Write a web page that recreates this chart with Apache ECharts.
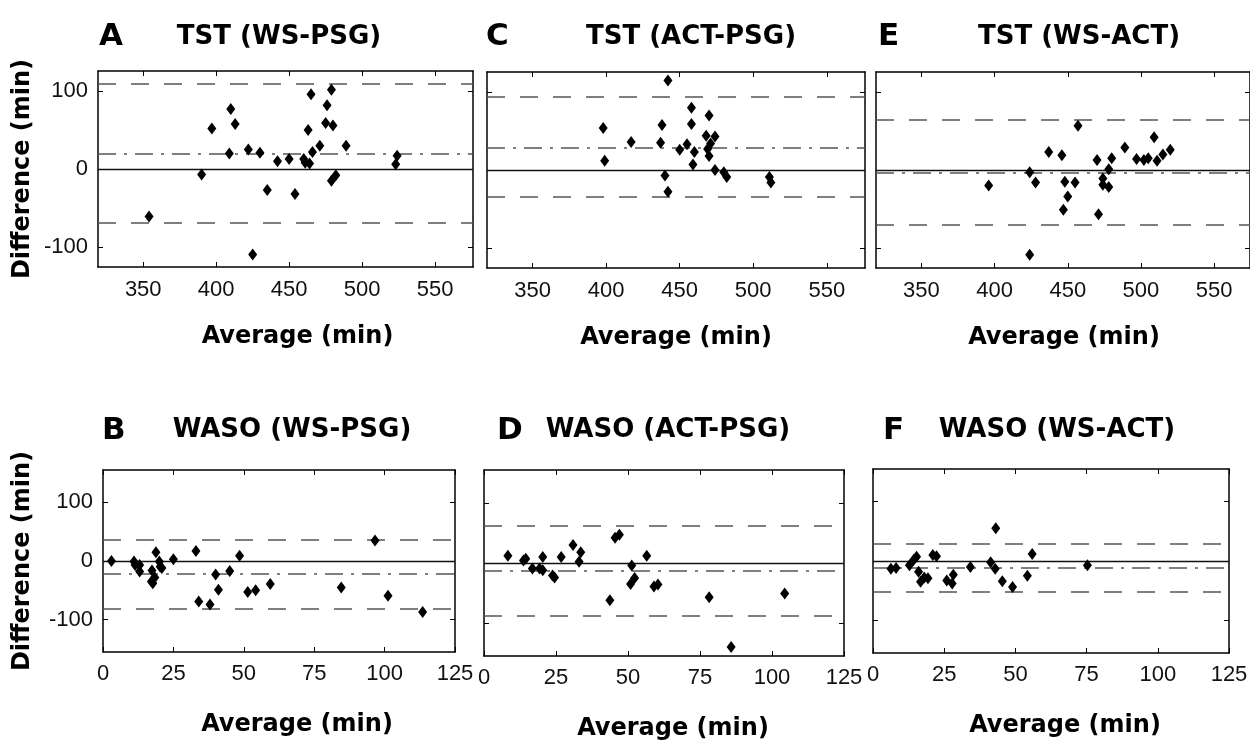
<!DOCTYPE html>
<html>
<head>
<meta charset="utf-8">
<script src="https://cdn.jsdelivr.net/npm/echarts@6/dist/echarts.min.js"></script>
<style>
  html, body { margin: 0; padding: 0; background: #fff; }
  #chart { width: 1250px; height: 740px; }
</style>
</head>
<body>
<div id="chart"></div>
<script>
// Bland-Altman points [average, difference]
const tstWsPsg = [[354,-61],[390,-7],[397,52],[409,20],[410,77],[413,58],[422,25],[425,-110],[430,21],[435,-27],[442,10],[450,13],[454,-32],[460,13],[461,8],[463,50],[464,7],[465,96],[466,22],[471,30],[475,59],[476,82],[479,102],[480,56],[479,-15],[482,-8],[489,30],[523,6],[524,17]];
const tstActPsg = [[398,54],[399,12],[417,36],[437,35],[438,58],[440,-7],[442,115],[442,-28],[450,26],[455,33],[458,80],[458,59],[459,7],[460,23],[468,44],[470,70],[469,27],[470,18],[471,34],[474,43],[474,0],[480,-3],[482,-9],[511,-9],[512,-16]];
const tstWsAct = [[396,-20],[424,-3],[424,-109],[428,-16],[437,23],[446,19],[448,-15],[447,-51],[450,-34],[455,-16],[457,57],[470,13],[471,-57],[474,-11],[474,-19],[478,-22],[478,1],[480,15],[489,29],[497,14],[502,13],[505,15],[509,42],[511,12],[515,20],[520,26]];
const wasoWsPsg = [[3,0],[11,-1],[11.4,-7],[13,-7],[13,-18],[17.4,-16],[17.2,-35],[17.7,-38],[18.4,-28],[18.8,15],[20,-1],[20.3,-10],[20.9,-12],[25,3],[33,17],[34,-69],[38,-74],[40,-23],[41,-49],[45,-17],[48.5,9],[51.4,-53],[54.2,-50],[59.4,-39],[84.6,-45],[96.6,35],[101.2,-59],[113.5,-87]];
const wasoActPsg = [[8.3,12],[13.7,4],[14.5,7],[16.8,-9],[19.3,-9],[20.4,10],[20.4,-12],[23.8,-21],[24.5,-24],[26.8,10],[30.9,30],[33,2],[33.6,18],[43.7,-62],[45.5,42],[47,47],[51.3,-4],[50.9,-35],[52.3,-25],[56.5,12],[59,-39],[60.4,-36],[78.2,-57],[85.8,-140],[104.4,-51]];
const wasoWsAct = [[6.3,-13],[8.1,-12],[12.8,-7],[14.3,2],[15.3,7],[16,-18],[16.7,-35],[18,-28],[19.3,-29],[21,10],[22.3,8],[25.9,-33],[27.8,-38],[28.2,-23],[34.2,-10],[41.3,-2],[42.9,-13],[43.1,55],[45.4,-34],[49,-44],[54.2,-25],[55.9,12],[75.3,-7]];

// panel order: A C E (top row), B D F (bottom row)
const panelLetters = ['A', 'C', 'E', 'B', 'D', 'F'];
const panelTitles = ['TST (WS-PSG)', 'TST (ACT-PSG)', 'TST (WS-ACT)', 'WASO (WS-PSG)', 'WASO (ACT-PSG)', 'WASO (WS-ACT)'];
const panelData = [tstWsPsg, tstActPsg, tstWsAct, wasoWsPsg, wasoActPsg, wasoWsAct];
const meanDiff = [20, 29, -3, -22, -13, -12];
const upperLimit = [110, 94, 65, 37, 62, 29];
const lowerLimit = [-69, -35, -71, -81, -88, -52];

const tstTicks = [350, 400, 450, 500, 550];
const wasoTicks = [0, 25, 50, 75, 100, 125];
const diffTicks = [-100, 0, 100];

const grids = [
  { left: 98, top: 71, width: 375, height: 196 },
  { left: 487, top: 72, width: 378, height: 196 },
  { left: 876, top: 72, width: 374, height: 196 },
  { left: 103, top: 470, width: 352, height: 182 },
  { left: 484, top: 470, width: 360, height: 186 },
  { left: 873, top: 469, width: 356, height: 184 }
].map(g => Object.assign({ outerBoundsMode: 'none', containLabel: false }, g));
// where letter / title / x name sit for each panel
const letterPos = [[99, 52], [486, 52], [878, 52], [102, 446], [497, 446], [883, 446]];
const titlePos = [[279, 50], [691, 50], [1079, 50], [292, 443], [668, 443], [1057, 443]];
const namePad = [24, 0, 2, 36, 18, 28];

const boldFont = '"DejaVu Sans", sans-serif';
const tickFont = '"Liberation Sans", Arial, sans-serif';
const axisLineStyle = { color: '#000', width: 1.5 };

const xAxes = [], yAxes = [], series = [], graphics = [];

grids.forEach((g, i) => {
  const top = i < 3;
  const xTicks = top ? tstTicks : wasoTicks;
  const xMin = top ? 319 : 0, xMax = top ? (i === 2 ? 574.5 : 576) : 125;
  const yLim = top ? 126 : 155;
  const showY = i === 0 || i === 3;

  xAxes.push({
    gridIndex: i, type: 'value', position: 'bottom', min: xMin, max: xMax,
    axisLine: { show: true, onZero: false, lineStyle: axisLineStyle },
    axisTick: { show: true, inside: true, length: 5, customValues: xTicks, lineStyle: { color: '#000' } },
    axisLabel: { show: true, customValues: xTicks, margin: top ? 12 : 11, fontSize: 22, color: '#111', fontFamily: tickFont },
    splitLine: { show: false },
    name: 'Average (min)', nameLocation: 'middle', nameGap: top ? 58 : 61,
    nameTextStyle: { fontFamily: boldFont, fontWeight: 'bold', fontSize: 24, color: '#000', padding: [0, 0, 0, namePad[i]] }
  });
  xAxes.push({
    gridIndex: i, type: 'value', position: 'top', min: xMin, max: xMax,
    axisLine: { show: true, onZero: false, lineStyle: axisLineStyle },
    axisTick: { show: true, inside: true, length: 5, customValues: xTicks, lineStyle: { color: '#000' } },
    axisLabel: { show: false },
    splitLine: { show: false }
  });
  yAxes.push({
    gridIndex: i, type: 'value', position: 'left', min: -yLim, max: yLim,
    axisLine: { show: true, onZero: false, lineStyle: axisLineStyle },
    axisTick: { show: true, inside: true, length: 5, customValues: diffTicks, lineStyle: { color: '#000' } },
    axisLabel: { show: showY, customValues: diffTicks, margin: 10, fontSize: 22, color: '#111', fontFamily: tickFont },
    splitLine: { show: false },
    name: showY ? 'Difference (min)' : '', nameLocation: 'middle', nameGap: showY ? (i === 0 ? 63 : 68) : 0,
    nameTextStyle: { fontFamily: boldFont, fontWeight: 'bold', fontSize: 24, color: '#000' }
  });
  yAxes.push({
    gridIndex: i, type: 'value', position: 'right', min: -yLim, max: yLim,
    axisLine: { show: true, onZero: false, lineStyle: axisLineStyle },
    axisTick: { show: true, inside: true, length: 5, customValues: diffTicks, lineStyle: { color: '#000' } },
    axisLabel: { show: false },
    splitLine: { show: false }
  });

  series.push({
    type: 'scatter',
    xAxisIndex: i * 2,
    yAxisIndex: i * 2,
    data: panelData[i],
    symbol: 'diamond',
    symbolSize: [9, 12],
    itemStyle: { color: '#000', opacity: 1 },
    z: 5,
    markLine: {
      silent: true,
      symbol: 'none',
      label: { show: false },
      emphasis: { disabled: true },
      data: [
        { yAxis: 0, lineStyle: { type: 'solid', color: '#111', width: 1.3 } },
        { yAxis: meanDiff[i], lineStyle: { type: [18, 8, 3, 8], color: '#555', width: 1.6 } },
        { yAxis: upperLimit[i], lineStyle: { type: [18, 15], color: '#555', width: 1.6 } },
        { yAxis: lowerLimit[i], lineStyle: { type: [18, 15], color: '#555', width: 1.6 } }
      ]
    }
  });

  graphics.push({
    type: 'text', x: letterPos[i][0], y: letterPos[i][1],
    style: { text: panelLetters[i], font: 'bold 31px ' + boldFont, fill: '#000', textAlign: 'left', textVerticalAlign: 'bottom' }
  });
  graphics.push({
    type: 'text', x: titlePos[i][0], y: titlePos[i][1],
    style: { text: panelTitles[i], font: 'bold 26px ' + boldFont, fill: '#000', textAlign: 'center', textVerticalAlign: 'bottom' }
  });
});

const chart = echarts.init(document.getElementById('chart'));
chart.setOption({
  animation: false,
  backgroundColor: '#fff',
  grid: grids,
  xAxis: xAxes,
  yAxis: yAxes,
  series: series,
  graphic: graphics
});
</script>
</body>
</html>
